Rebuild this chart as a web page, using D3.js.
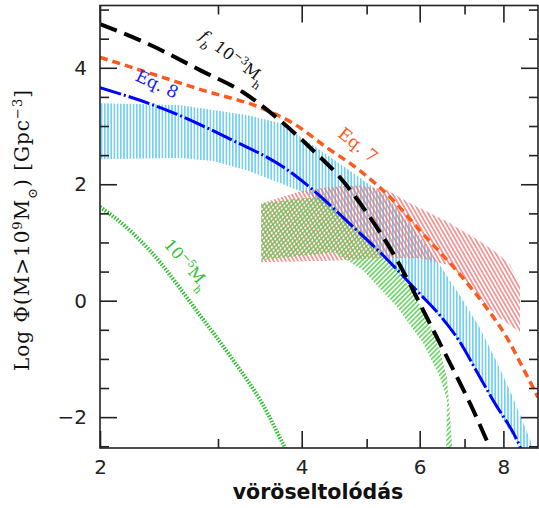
<!DOCTYPE html>
<html>
<head>
<meta charset="utf-8">
<script src="https://cdn.jsdelivr.net/npm/d3@7"></script>
<style>
  html, body { margin: 0; padding: 0; background: #fff; }
  #chart { width: 539px; height: 508px; }
</style>
</head>
<body>
<div id="chart"></div>
<script>
(function () {
  'use strict';

  // [redshift, log Phi]
  var fb3Curve = [[2.00, 4.75], [2.37, 4.40], [2.82, 3.96], [3.27, 3.58], [3.71, 3.10], [4.16, 2.58],
    [4.56, 2.12], [5.01, 1.50], [5.55, 0.70], [6.07, -0.16], [6.43, -0.73], [6.82, -1.31], [7.13, -1.76], [7.64, -2.53]];
  var eq7Curve = [[2.00, 4.18], [2.37, 3.91], [2.82, 3.63], [3.55, 3.27], [3.88, 3.05], [4.36, 2.63], [4.89, 2.23],
    [5.47, 1.73], [6.00, 1.21], [6.96, 0.39], [7.56, -0.13], [8.10, -0.64], [8.56, -1.16], [9.01, -1.66]];
  var eq8Curve = [[2.00, 3.66], [2.52, 3.27], [3.16, 2.75], [3.75, 2.30], [4.22, 1.84], [4.72, 1.32], [5.29, 0.78],
    [6.00, 0.12], [6.43, -0.25], [6.89, -0.71], [7.31, -1.23], [7.72, -1.71], [8.47, -2.51], [8.6, -2.7]];
  var fb5Curve = [[2.00, 1.61], [2.18, 1.28], [2.37, 0.87], [2.82, -0.25], [3.16, -1.02], [3.49, -1.76], [3.78, -2.53], [3.85, -2.7]];

  var cyanUpper = [[2.00, 3.39], [2.63, 3.36], [3.31, 3.19], [3.71, 3.05], [4.16, 2.67], [4.67, 2.27], [5.36, 1.78],
    [6.00, 1.10], [6.43, 0.61], [6.89, 0.09], [7.38, -0.47], [7.83, -1.06], [8.30, -1.71], [8.77, -2.39], [9.01, -2.75]];
  var cyanLower = [[2.00, 2.43], [2.63, 2.45], [2.95, 2.40], [3.31, 2.24], [3.75, 2.00], [4.12, 1.81], [4.72, 1.30],
    [5.29, 0.76], [6.00, 0.10], [6.43, -0.28], [6.89, -0.74], [7.31, -1.25], [7.72, -1.74], [8.47, -2.55], [8.6, -2.75]];

  var redRegion = [[3.48, 1.67], [3.98, 1.88], [4.45, 1.96], [4.89, 1.98], [5.36, 1.90], [5.86, 1.65], [6.59, 1.36],
    [7.38, 1.02], [7.86, 0.80], [8.18, 0.62], [8.47, 0.27], [8.47, -0.54], [7.91, -0.30], [7.56, -0.09], [7.13, 0.27],
    [6.66, 0.61], [6.00, 0.73], [5.23, 0.73], [4.56, 0.69], [3.48, 0.66]];
  var greenRegion = [[3.48, 1.67], [3.98, 1.76], [4.33, 1.78], [4.45, 1.61], [5.01, 1.09], [5.55, 0.57], [5.74, 0.30],
    [6.15, -0.28], [6.43, -0.85], [6.59, -1.31], [6.72, -2.6], [6.57, -2.6], [6.59, -1.71], [6.43, -1.31], [6.07, -0.73],
    [5.55, -0.11], [4.94, 0.52], [4.48, 0.83], [3.48, 0.70]];

  var xMajor = [2, 4, 6, 8];
  var xMinor = [3, 5, 7];
  var yMajor = [-2, 0, 2, 4];
  var yMinor = [-2.5, -1.5, -1, -0.5, 0.5, 1, 1.5, 2.5, 3, 3.5, 4.5, 5];

  var width = 539, height = 508;
  var margin = { top: 5.5, right: 1, bottom: 60, left: 100 };
  var innerW = width - margin.left - margin.right;
  var innerH = height - margin.top - margin.bottom;

  var x = d3.scaleLog().domain([2, 9.01]).range([0, innerW]);
  var y = d3.scaleLinear().domain([-2.53, 5.07]).range([innerH, 0]);

  var svg = d3.select('#chart').append('svg')
    .attr('width', width).attr('height', height)
    .style('background', '#fff');

  var defs = svg.append('defs');
  defs.append('clipPath').attr('id', 'plot-clip')
    .append('rect').attr('width', innerW).attr('height', innerH);

  function hatch(id, color, angle, gap, w) {
    var p = defs.append('pattern').attr('id', id)
      .attr('patternUnits', 'userSpaceOnUse')
      .attr('width', gap).attr('height', 10)
      .attr('patternTransform', 'rotate(' + angle + ')');
    p.append('line')
      .attr('x1', gap / 2).attr('x2', gap / 2)
      .attr('y1', -1).attr('y2', 11)
      .attr('stroke', color).attr('stroke-width', w);
  }
  hatch('hatch-cyan', '#5cc8f2', 0, 3.2, 1.4);
  hatch('hatch-red', '#f26f6f', -30, 3.5, 1.3);
  hatch('hatch-green', '#4fd04a', 45, 3.4, 1.4);

  var g = svg.append('g').attr('transform', 'translate(' + margin.left + ',' + margin.top + ')');
  var plot = g.append('g').attr('clip-path', 'url(#plot-clip)');

  var poly = d3.line()
    .x(function (d) { return x(d[0]); })
    .y(function (d) { return y(d[1]); })
    .curve(d3.curveLinearClosed);
  var curve = d3.line()
    .x(function (d) { return x(d[0]); })
    .y(function (d) { return y(d[1]); })
    .curve(d3.curveMonotoneX);

  plot.append('path')
    .attr('d', poly(cyanUpper.concat(cyanLower.slice().reverse())))
    .attr('fill', 'url(#hatch-cyan)');
  plot.append('path').attr('d', poly(redRegion)).attr('fill', 'url(#hatch-red)');
  plot.append('path').attr('d', poly(greenRegion)).attr('fill', 'url(#hatch-green)');

  plot.append('path').attr('d', curve(fb5Curve))
    .attr('fill', 'none').attr('stroke', '#2fbf2f').attr('stroke-width', 4)
    .attr('stroke-dasharray', '1.5,1.5');
  plot.append('path').attr('d', curve(eq7Curve))
    .attr('fill', 'none').attr('stroke', '#ff5a1e').attr('stroke-width', 3.5)
    .attr('stroke-dasharray', '8,5');
  plot.append('path').attr('d', curve(eq8Curve))
    .attr('fill', 'none').attr('stroke', '#0000ff').attr('stroke-width', 3)
    .attr('stroke-dasharray', '22,3,2,3');
  plot.append('path').attr('d', curve(fb3Curve))
    .attr('fill', 'none').attr('stroke', '#000').attr('stroke-width', 4)
    .attr('stroke-dasharray', '18,8');

  // curve labels
  function label(cx, cy, angle, color, size, parts) {
    var t = g.append('text')
      .attr('transform', 'translate(' + (cx - margin.left) + ',' + (cy - margin.top) + ') rotate(' + angle + ')')
      .attr('text-anchor', 'middle')
      .attr('dy', '0.35em')
      .attr('font-family', 'DejaVu Serif, serif')
      .attr('font-size', size + 'px')
      .attr('fill', color);
    parts.forEach(function (p) {
      var s = t.append('tspan').text(p.t);
      if (p.shift) { s.attr('baseline-shift', p.shift).attr('font-size', Math.round(size * 0.68) + 'px'); }
      if (p.italic) { s.attr('font-style', 'italic'); }
    });
  }
  label(233, 57, 37, '#111', 16, [{ t: 'f', italic: true }, { t: 'b', shift: 'sub', italic: true }, { t: ' 10' },
    { t: '\u22123', shift: 'super' }, { t: 'M' }, { t: 'h', shift: 'sub' }]);
  label(157, 84, 25, '#1a1aff', 17, [{ t: 'Eq.  8' }]);
  label(358, 145, 38, '#ff5a1e', 17, [{ t: 'Eq.  7' }]);
  label(187, 264, 49, '#2fbf2f', 16, [{ t: '10' }, { t: '\u22125', shift: 'super' }, { t: 'M' }, { t: 'h', shift: 'sub' }]);

  // axes
  function styleAxis(sel) {
    sel.select('.domain').remove();
    sel.selectAll('line').attr('stroke', '#222').attr('stroke-width', 1.6);
    sel.selectAll('text')
      .attr('font-family', 'DejaVu Sans, sans-serif')
      .attr('font-size', '20px')
      .attr('fill', '#222');
  }
  var fmtY = function (d) { return d < 0 ? '\u2212' + Math.abs(d) : String(d); };

  g.append('g').attr('transform', 'translate(0,' + innerH + ')')
    .call(d3.axisBottom(x).tickValues(xMajor).tickSize(-17).tickPadding(12).tickFormat(d3.format('d')))
    .call(styleAxis);
  g.append('g').attr('transform', 'translate(0,' + innerH + ')')
    .call(d3.axisBottom(x).tickValues(xMinor).tickSize(-9).tickFormat(''))
    .call(styleAxis);
  g.append('g')
    .call(d3.axisTop(x).tickValues(xMajor).tickSize(-17).tickFormat(''))
    .call(styleAxis);
  g.append('g')
    .call(d3.axisTop(x).tickValues(xMinor).tickSize(-9).tickFormat(''))
    .call(styleAxis);

  g.append('g')
    .call(d3.axisLeft(y).tickValues(yMajor).tickSize(-17).tickPadding(13).tickFormat(fmtY))
    .call(styleAxis);
  g.append('g')
    .call(d3.axisLeft(y).tickValues(yMinor).tickSize(-9).tickFormat(''))
    .call(styleAxis);
  g.append('g').attr('transform', 'translate(' + innerW + ',0)')
    .call(d3.axisRight(y).tickValues(yMajor).tickSize(-17).tickFormat(''))
    .call(styleAxis);
  g.append('g').attr('transform', 'translate(' + innerW + ',0)')
    .call(d3.axisRight(y).tickValues(yMinor).tickSize(-9).tickFormat(''))
    .call(styleAxis);

  g.append('rect')
    .attr('width', innerW).attr('height', innerH)
    .attr('fill', 'none').attr('stroke', '#222').attr('stroke-width', 1.6);

  // axis titles
  g.append('text')
    .attr('x', 318 - margin.left).attr('y', 499 - margin.top)
    .attr('text-anchor', 'middle')
    .attr('font-family', 'DejaVu Sans, sans-serif')
    .attr('font-weight', 'bold')
    .attr('font-size', '20.5px')
    .attr('fill', '#111')
    .text('vöröseltolódás');

  var yt = svg.append('text')
    .attr('transform', 'translate(29,230) rotate(-90)')
    .attr('text-anchor', 'middle')
    .attr('font-family', 'DejaVu Serif, serif')
    .attr('font-size', '20px')
    .attr('letter-spacing', '1px')
    .attr('fill', '#111');
  yt.append('tspan').text('Log  \u03A6(M>10');
  yt.append('tspan').attr('baseline-shift', 'super').attr('font-size', '13px').text('9');
  yt.append('tspan').text('M');
  yt.append('tspan').attr('baseline-shift', 'sub').attr('font-size', '13px').text('\u2299');
  yt.append('tspan').text(')  [Gpc');
  yt.append('tspan').attr('baseline-shift', 'super').attr('font-size', '13px').text('\u22123');
  yt.append('tspan').text(']');
})();
</script>
</body>
</html>
